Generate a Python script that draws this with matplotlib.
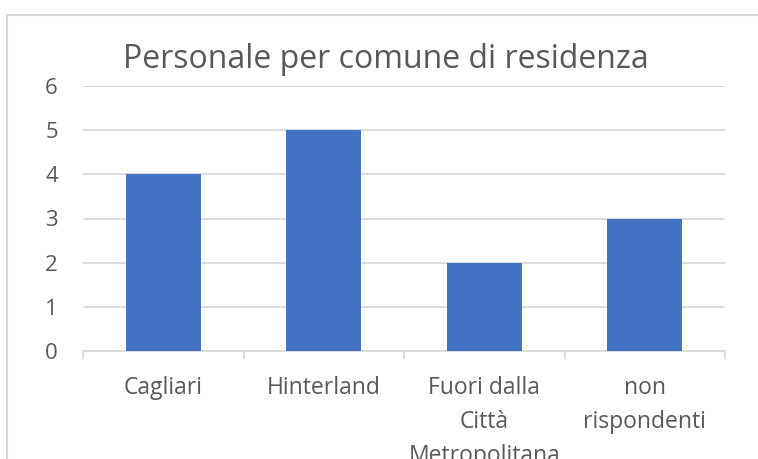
import matplotlib
matplotlib.use("Agg")
import matplotlib.pyplot as plt
from matplotlib.patches import Rectangle

categories = ["Cagliari", "Hinterland", "Fuori dalla\nCittà\nMetropolitana", "non\nrispondenti"]
values = [4, 5, 2, 3]
title = "Personale per comune di residenza"

plt.rcParams['font.family'] = ['Open Sans', 'DejaVu Sans']

fig = plt.figure(figsize=(7.58, 4.59), dpi=100)
ax = fig.add_axes([83 / 758, 1 - 351 / 459, 642 / 758, 265 / 459])

# chart frame (cropped on right and bottom)
fig.patches.append(Rectangle((7 / 758, -0.1), 1.1, 1 - 15 / 459 + 0.1,
                             transform=fig.transFigure, fill=False,
                             edgecolor='#D9D9D9', linewidth=1.5, zorder=0))

x = range(len(categories))
ax.bar(x, values, width=0.47, color='#4472C4', zorder=3)

ax.set_xlim(-0.5, len(categories) - 0.5)
ax.set_ylim(0, 6)
ax.set_yticks(range(0, 7))
ax.yaxis.grid(True, color='#D9D9D9', linewidth=1.3, zorder=0)
ax.set_axisbelow(True)

for s in ['top', 'right', 'left']:
    ax.spines[s].set_visible(False)
ax.spines['bottom'].set_color('#D9D9D9')
ax.spines['bottom'].set_linewidth(1.3)

ax.set_xticks([i - 0.5 for i in range(len(categories) + 1)], minor=False)
ax.set_xticklabels([])
ax.tick_params(axis='x', which='major', length=6, color='#D9D9D9', width=1.3)
ax.set_xticks(list(x), minor=True)
ax.set_xticklabels(categories, minor=True, fontsize=16.5, color='#595959',
                   linespacing=1.55)
ax.tick_params(axis='x', which='minor', length=0, pad=18)
ax.tick_params(axis='y', length=0, labelsize=16, labelcolor='#595959', pad=18)

fig.text(386 / 758, 1 - 60 / 459, title, ha='center', va='center',
         fontsize=23, color='#595959')

fig.savefig("out.png", dpi=100)
